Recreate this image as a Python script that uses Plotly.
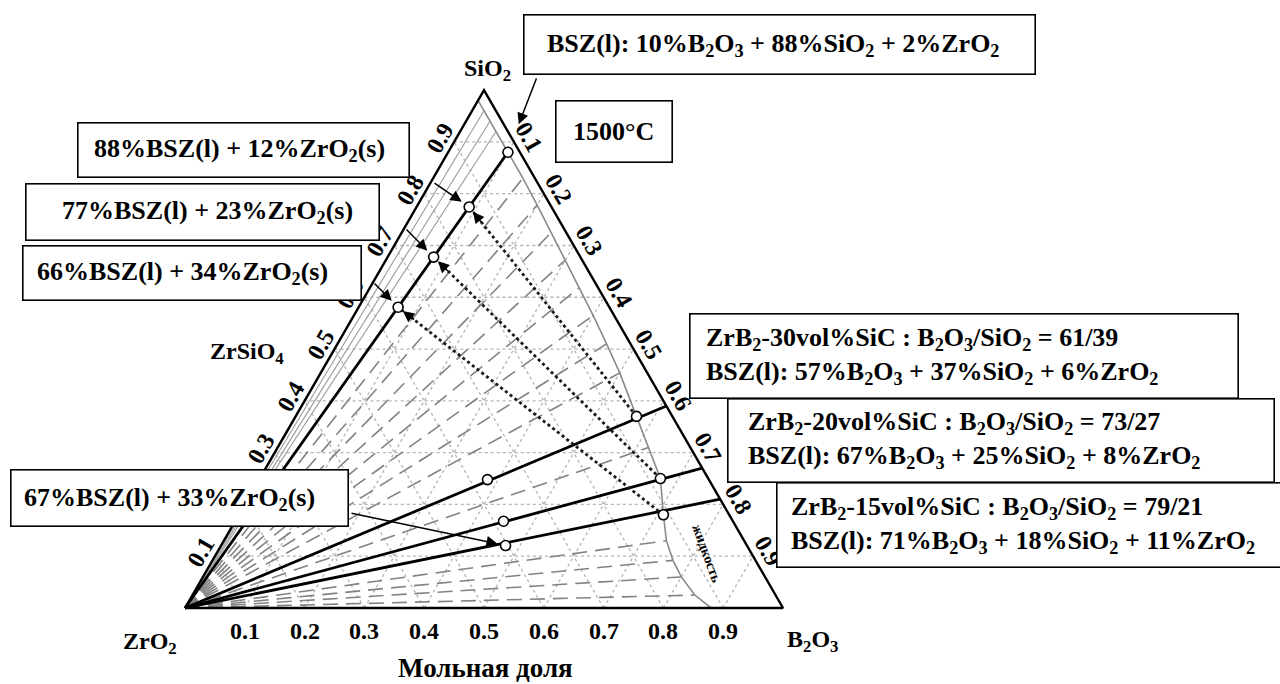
import numpy as np
import plotly.graph_objects as go

# ---------------- data (mole fractions / percent) ----------------
tick_values = [0.1, 0.2, 0.3, 0.4, 0.5, 0.6, 0.7, 0.8, 0.9]
tick_labels = ["0.1", "0.2", "0.3", "0.4", "0.5", "0.6", "0.7", "0.8", "0.9"]

# liquidus of the B2O3-SiO2-ZrO2 system at 1500 °C
liq_b2o3 = [0.00, 0.02, 0.04, 0.06, 0.10, 0.15, 0.20, 0.25, 0.30, 0.35, 0.40,
            0.45, 0.50, 0.57, 0.62, 0.67, 0.71, 0.74, 0.77, 0.80, 0.84, 0.88]
liq_zro2 = [0.020, 0.020, 0.020, 0.020, 0.020, 0.020, 0.022, 0.025, 0.028, 0.031, 0.035,
            0.040, 0.046, 0.060, 0.070, 0.080, 0.110, 0.130, 0.138, 0.140, 0.135, 0.120]
liq_sio2 = [0.980, 0.960, 0.940, 0.920, 0.880, 0.830, 0.778, 0.725, 0.672, 0.619, 0.565,
            0.510, 0.454, 0.370, 0.310, 0.250, 0.180, 0.130, 0.092, 0.060, 0.025, 0.000]

# SiO2-rich BSZ(l) melt, %
top_b2o3, top_sio2, top_zro2 = 10, 88, 2

# ZrB2-SiC ceramics: oxide B2O3/SiO2 ratio and the ZrO2-saturated melt, %
sic_vol = [30, 20, 15]
ratio_b2o3 = [61, 73, 79]
ratio_sio2 = [39, 27, 21]
melt_b2o3 = [57, 67, 71]
melt_sio2 = [37, 25, 18]
melt_zro2 = [6, 8, 11]

# liquid fraction (lever rule), %
left_liquid = [88, 77, 66]
mix_liquid = 67

# ---------------- geometry ----------------
W, H = 1280, 684
X0, Y0, SIDE = 185.0, 608.0, 598.0      # ZrO2 corner (px) and edge length (px)
R3 = np.sqrt(3) / 2
FONT = "Liberation Serif, Times New Roman, serif"


def cart(sio2, zro2, b2o3):
    """Ternary composition -> cartesian (ZrO2 at origin, B2O3 at (1, 0))."""
    s = np.asarray(sio2, dtype=float)
    b = np.asarray(b2o3, dtype=float)
    return b + 0.5 * s, R3 * s


def to_px(x, y):
    return X0 + SIDE * x, Y0 - SIDE * y


fig = go.Figure()


def add_line(x, y, color, width, dash=None):
    fig.add_trace(go.Scatter(x=list(x), y=list(y), mode="lines", hoverinfo="skip",
                             showlegend=False,
                             line=dict(color=color, width=width, dash=dash)))


# dotted composition grid
gx, gy = [], []
for t in tick_values:
    for s, z, b in [((t, t), (1 - t, 0), (0, 1 - t)),
                    ((0, 1 - t), (1 - t, 0), (t, t)),
                    ((0, 1 - t), (t, t), (1 - t, 0))]:
        x, y = cart(s, z, b)
        gx += list(x) + [None]
        gy += list(y) + [None]
add_line(gx, gy, "#b4b4b4", 1.3, "dot")

# tie lines ZrO2(s) - liquid
skip_b = {m / 100 for m in melt_b2o3} | {top_b2o3 / 100}
dx, dy, sx, sy = [], [], [], []
for s, z, b in zip(liq_sio2, liq_zro2, liq_b2o3):
    if round(b, 3) in skip_b:
        continue
    x, y = cart([0, s], [1, z], [0, b])
    if b < 0.1:
        sx += list(x) + [None]
        sy += list(y) + [None]
    else:
        dx += list(x) + [None]
        dy += list(y) + [None]
add_line(dx, dy, "#828282", 1.6, "15px,8px")
add_line(sx, sy, "#9a9a9a", 1.1)

# liquidus
lx, ly = cart(liq_sio2, liq_zro2, liq_b2o3)
add_line(lx, ly, "#8a8a8a", 1.6)

# triangle
tx, ty = cart([0, 0, 1, 0], [1, 0, 0, 1], [0, 1, 0, 0])
add_line(tx, ty, "black", 2.4)

# ZrO2 - BSZ(l) join and the three B2O3/SiO2 sections
top = cart(top_sio2 / 100, top_zro2 / 100, top_b2o3 / 100)
x, y = cart([0, top_sio2 / 100], [1, top_zro2 / 100], [0, top_b2o3 / 100])
add_line(x, y, "black", 2.8)
for rb, rs in zip(ratio_b2o3, ratio_sio2):
    tot = rb + rs
    x, y = cart([0, rs / tot], [1, 0], [0, rb / tot])
    add_line(x, y, "black", 2.8)

# points on the ZrO2 - BSZ(l) join
f_left = np.array(left_liquid) / 100
left_pts = cart(f_left * top_sio2 / 100,
                f_left * top_zro2 / 100 + (1 - f_left),
                f_left * top_b2o3 / 100)

# melt compositions and 67 % liquid mixtures on each section
melt_pts = cart(np.array(melt_sio2) / 100, np.array(melt_zro2) / 100,
                np.array(melt_b2o3) / 100)
fm = mix_liquid / 100
mix_pts = cart(fm * np.array(melt_sio2) / 100,
               fm * np.array(melt_zro2) / 100 + (1 - fm),
               fm * np.array(melt_b2o3) / 100)

# B2O3 loss paths (dotted)
for i in range(3):
    add_line([melt_pts[0][i], left_pts[0][i]], [melt_pts[1][i], left_pts[1][i]],
             "#1a1a1a", 2.8, "dot")

mx = [float(top[0])] + list(melt_pts[0]) + list(left_pts[0]) + list(mix_pts[0])
my = [float(top[1])] + list(melt_pts[1]) + list(left_pts[1]) + list(mix_pts[1])
fig.add_trace(go.Scatter(x=mx, y=my, mode="markers", hoverinfo="skip", showlegend=False,
                         marker=dict(symbol="circle", size=10, color="white",
                                     line=dict(color="black", width=1.6))))


# ---------------- text ----------------
def text(x, y, s, size, angle=0, xshift=0, yshift=0, ref="x", xanchor="center"):
    if ref == "paper":
        xr, yr, xv, yv = "paper", "paper", x / W, 1 - y / H
    else:
        xr, yr, xv, yv = "x", "y", x, y
    fig.add_annotation(x=xv, y=yv, xref=xr, yref=yr, text=s, showarrow=False,
                       textangle=angle, xshift=xshift, yshift=yshift,
                       xanchor=xanchor, yanchor="middle",
                       font=dict(family=FONT, size=size, color="black", weight="bold"))


for t, lab in zip(tick_values, tick_labels):
    x, y = cart(t, 1 - t, 0)
    text(float(x), float(y), lab, 24, -60, xshift=-14, yshift=4)
    x, y = cart(1 - t, 0, t)
    text(float(x), float(y), lab, 24, 60, xshift=15, yshift=5)
    x, y = cart(0, 1 - t, t)
    text(float(x), float(y), lab, 24, 0, yshift=-23)

text(487, 70, "SiO<sub>2</sub>", 24, ref="paper")
text(150, 643, "ZrO<sub>2</sub>", 24, ref="paper")
text(812, 641, "B<sub>2</sub>O<sub>3</sub>", 24, ref="paper")
text(247, 353, "ZrSiO<sub>4</sub>", 24, ref="paper")
text(485, 668, "Мольная доля", 27, ref="paper")
text(707, 553, "жидкость", 14, 70, ref="paper")


def box(x0, y0, x1, y1):
    fig.add_annotation(xref="paper", yref="paper", x=(x0 + x1) / 2 / W,
                       y=1 - (y0 + y1) / 2 / H, xanchor="center", yanchor="middle",
                       text=" ", showarrow=False, width=x1 - x0 - 2, height=y1 - y0 - 2,
                       borderpad=0, bgcolor="white", bordercolor="black", borderwidth=1.6)


def arrow(xd, yd, tail, standoff, size=1.5):
    hx, hy = to_px(xd, yd)
    fig.add_annotation(x=float(xd), y=float(yd), xref="x", yref="y", text="",
                       showarrow=True, ax=tail[0] - hx, ay=tail[1] - hy,
                       arrowhead=2, arrowsize=size, arrowwidth=1.5,
                       arrowcolor="black", standoff=standoff)


def sub(s):
    return (s.replace("B2O3", "B<sub>2</sub>O<sub>3</sub>")
             .replace("SiO2", "SiO<sub>2</sub>")
             .replace("ZrO2", "ZrO<sub>2</sub>")
             .replace("ZrB2", "ZrB<sub>2</sub>"))


# SiO2-rich melt
box(523, 15, 1035, 75)
text(545, 45, sub(f"BSZ(l): {top_b2o3}%B2O3 + {top_sio2}%SiO2 + {top_zro2}%ZrO2"),
     26, ref="paper", xanchor="left")
arrow(top[0], top[1], (537, 77), 30)

box(555, 100, 672, 162)
text(613, 131, "1500°C", 26, ref="paper")

# liquid + ZrO2 fractions on the join
left_boxes = [(77, 122, 409, 177), (25, 183, 379, 240), (22, 245, 361, 300)]
left_text_x = [92, 60, 35]
left_tails = [(433, 182), (405, 228), (373, 282)]
for i, (bx, tx0, tl) in enumerate(zip(left_boxes, left_text_x, left_tails)):
    box(*bx)
    text(tx0, (bx[1] + bx[3]) / 2,
         sub(f"{left_liquid[i]}%BSZ(l) + {100 - left_liquid[i]}%ZrO2(s)"),
         26, ref="paper", xanchor="left")
    arrow(left_pts[0][i], left_pts[1][i], tl, 9)
    # head of the dotted path
    px, py = to_px(left_pts[0][i], left_pts[1][i])
    qx, qy = to_px(melt_pts[0][i], melt_pts[1][i])
    d = np.hypot(qx - px, qy - py)
    arrow(left_pts[0][i], left_pts[1][i],
          (px + 22 * (qx - px) / d, py + 22 * (qy - py) / d), 6)

box(10, 470, 348, 527)
text(22, 499, sub(f"{mix_liquid}%BSZ(l) + {100 - mix_liquid}%ZrO2(s)"), 26,
     ref="paper", xanchor="left")
arrow(mix_pts[0][2], mix_pts[1][2], (350, 513), 8)

# ZrB2-SiC sections
right_boxes = [(689, 313, 1238, 398), (727, 398, 1274, 482), (776, 482, 1290, 567)]
right_text_x = [704, 746, 789]
for i, (bx, tx0) in enumerate(zip(right_boxes, right_text_x)):
    box(*bx)
    s = (f"ZrB2-{sic_vol[i]}vol%SiC : B2O3/SiO2 = {ratio_b2o3[i]}/{ratio_sio2[i]}<br>"
         f"BSZ(l): {melt_b2o3[i]}%B2O3 + {melt_sio2[i]}%SiO2 + {melt_zro2[i]}%ZrO2")
    fig.add_annotation(x=tx0 / W, y=1 - (bx[1] + bx[3]) / 2 / H, xref="paper", yref="paper",
                       text=sub(s), showarrow=False, xanchor="left", yanchor="middle",
                       align="left",
                       font=dict(family=FONT, size=26, color="black", weight="bold"))

fig.update_xaxes(range=[-X0 / SIDE, (W - X0) / SIDE], visible=False)
fig.update_yaxes(range=[(Y0 - H) / SIDE, Y0 / SIDE], visible=False)
fig.update_layout(width=W, height=H, margin=dict(l=0, r=0, t=0, b=0),
                  paper_bgcolor="white", plot_bgcolor="white")
fig.write_html("out.html")
